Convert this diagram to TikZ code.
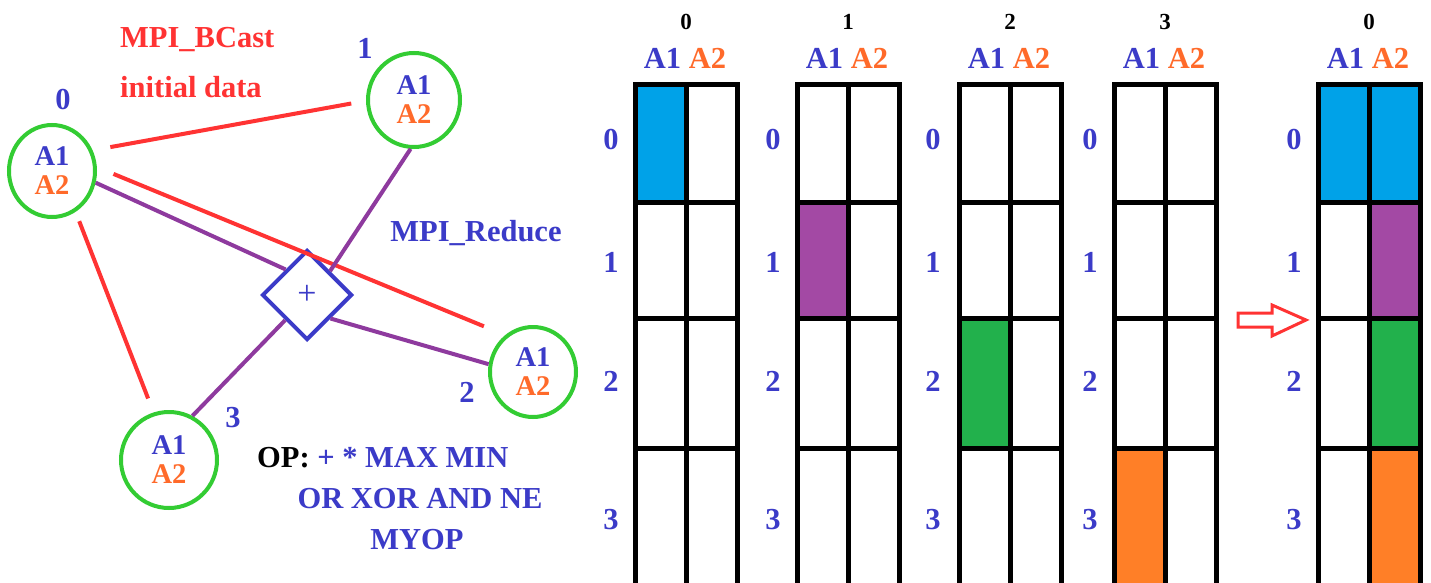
\documentclass[tikz,border=0pt]{standalone}
\usepackage{fontspec}
\setmainfont{Liberation Serif}
\usetikzlibrary{shapes.geometric}
\definecolor{tblue}{HTML}{3B3BC8}
\definecolor{torange}{HTML}{FF6A2A}
\definecolor{lred}{HTML}{FF3333}
\definecolor{lpurple}{HTML}{8E3A9E}
\definecolor{cgreen}{HTML}{33CC33}
\definecolor{cellblue}{HTML}{00A2E8}
\definecolor{cellpurple}{HTML}{A349A4}
\definecolor{cellgreen}{HTML}{22B14C}
\definecolor{cellorange}{HTML}{FF7F27}
\begin{document}
\begin{tikzpicture}[x=1pt,y=-1pt,
  big/.style={font=\fontsize{30.5}{30.5}\selectfont\bfseries, inner sep=0pt},
  hdr/.style={font=\fontsize{23}{23}\selectfont\bfseries, inner sep=0pt},
  proc/.style={ellipse, draw=cgreen, line width=4pt, inner sep=0pt, align=center,
    font=\fontsize{28.5}{29}\selectfont\bfseries},
  plabel/.style={big, text=tblue},
  redline/.style={lred, line width=4pt},
  purpline/.style={lpurple, line width=4pt},
  gridline/.style={black, line width=5pt},
  opbox/.style={diamond, draw=tblue, line width=4pt, inner sep=0pt, aspect=1,
    minimum width=90pt, minimum height=90pt, font=\fontsize{34}{34}\selectfont, text=tblue},
]
\useasboundingbox (0,0) rectangle (1431,583);
\fill[white] (0,0) rectangle (1431,583);

% ---------- left graph ----------
\node[big, text=lred, anchor=west] (bcast) at (120,40) {MPI\_BCast};
\node[big, text=lred, anchor=west] (init) at (120,87) {initial data};
\node[big, text=tblue] (reduce) at (476,233) {MPI\_Reduce};

\node[proc, minimum width=86pt, minimum height=92pt] (n0) at (52,171)
  {\textcolor{tblue}{A1}\\\textcolor{torange}{A2}};
\node[proc, minimum width=92pt, minimum height=94pt] (n1) at (414,100)
  {\textcolor{tblue}{A1}\\\textcolor{torange}{A2}};
\node[proc, minimum width=86pt, minimum height=90pt] (n2) at (533,372)
  {\textcolor{tblue}{A1}\\\textcolor{torange}{A2}};
\node[proc, minimum width=96pt, minimum height=96pt] (n3) at (169,460)
  {\textcolor{tblue}{A1}\\\textcolor{torange}{A2}};
\node[opbox] (op) at (307,295) {+};

\node[plabel] (l0) at (63,100) {0};
\node[plabel] (l1) at (365,48) {1};
\node[plabel] (l2) at (467,392) {2};
\node[plabel] (l3) at (233,418) {3};

\draw[redline, shorten <=18pt, shorten >=15pt] (n0.27) -- (n1.181);
\draw[redline, shorten <=18pt, shorten >=23pt] (n0.5) -- (n2.127);
\draw[redline, shorten <=10pt, shorten >=15pt] (n0.-60) -- (n3.108);

\draw[purpline] (n0.-15) -- (op.130);
\draw[purpline] (n1.-94) -- (op.46);
\draw[purpline] (op.-45) -- (n2.170);
\draw[purpline] (n3.62) -- (op.229);

\node[big, anchor=west] (opl1) at (257,458) {OP: \textcolor{tblue}{+ * MAX MIN}};
\node[big, text=tblue] (opl2) at (420,499) {OR XOR AND NE};
\node[big, text=tblue] (opl3) at (417,540) {MYOP};

% ---------- grids ----------
\fill[cellblue] (635,85) rectangle (686,202);
\fill[cellpurple] (797,202) rectangle (848,318);
\fill[cellgreen] (959,318) rectangle (1009,448);
\fill[cellorange] (1114,448) rectangle (1165,590);
\fill[cellblue] (1318,85) rectangle (1421,202);
\fill[cellpurple] (1369,202) rectangle (1421,318);
\fill[cellgreen] (1369,318) rectangle (1421,448);
\fill[cellorange] (1369,448) rectangle (1421,590);

\foreach \L/\n/\lx [count=\i] in {635/0/611, 797/1/773, 959/2/933, 1114/3/1090, 1318/0/1294}{
  \pgfmathsetmacro{\M}{\L+51}
  \pgfmathsetmacro{\R}{\L+102}
  \draw[gridline, line join=miter] (\L,600) -- (\L,85) -- (\R,85) -- (\R,600);
  \draw[gridline] (\M,85) -- (\M,600);
  \foreach \y in {202,318,448}{
    \draw[gridline] (\L,\y) -- (\R,\y);
  }
  \node[hdr] (h\i) at (\M,22) {\n};
  \node[big] (ah\i) at (\M-1,58) {\textcolor{tblue}{A1} \textcolor{torange}{A2}};
  \node[plabel] (r\i a) at (\lx,140) {0};
  \node[plabel] (r\i b) at (\lx,262) {1};
  \node[plabel] (r\i c) at (\lx,381) {2};
  \node[plabel] (r\i d) at (\lx,520) {3};
}

% red arrow
\draw[lred, line width=3pt, fill=white, line join=miter]
  (1238,313) -- (1272,313) -- (1272,305) -- (1306,320) -- (1272,336) -- (1272,327) -- (1238,327) -- cycle;
\end{tikzpicture}
\end{document}
